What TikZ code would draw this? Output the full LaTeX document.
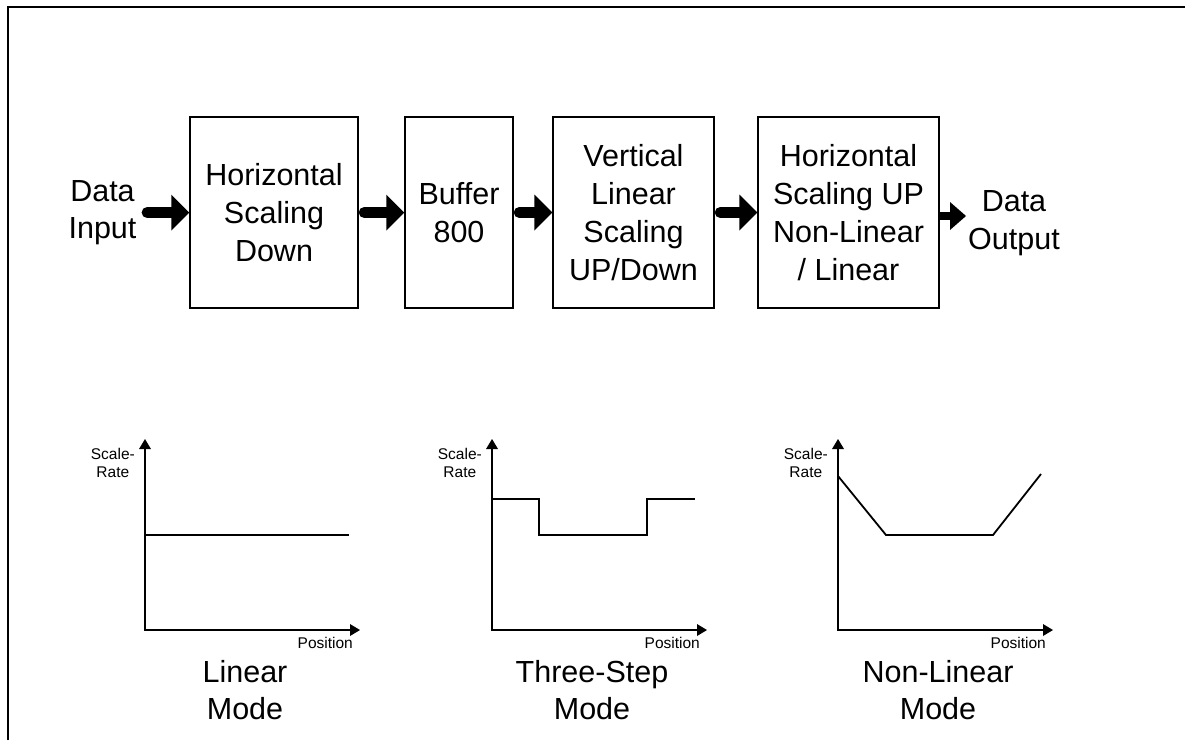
\documentclass[tikz,border=0pt]{standalone}
\usepackage{fontspec}
\setmainfont{Liberation Sans}
\usetikzlibrary{arrows.meta}

\begin{document}
\begin{tikzpicture}[x=1pt,y=-1pt,
    blk/.style={draw,line width=1.5pt,inner sep=0pt,align=center,minimum height=191pt,font=\fontsize{30.5}{38}\selectfont},
    lbl/.style={align=center,inner sep=0pt,font=\fontsize{30.5}{37.5}\selectfont},
    axlbl/.style={align=center,inner sep=0pt,font=\fontsize{15.5}{18}\selectfont},
    fat/.style={line width=11pt,line cap=round,shorten <=5.5pt,-{Triangle[length=18pt,width=36pt,line width=0pt]}},
    slim/.style={line width=8pt,-{Triangle[length=16pt,width=28pt,line width=0pt]}},
    axis/.style={line width=1.7pt,{Triangle[length=10pt,width=12pt,line width=0pt]}-{Triangle[length=10pt,width=12pt,line width=0pt]}},
    curve/.style={line width=1.8pt}]
  \useasboundingbox (0,0) rectangle (1185,740);
  % frame
  \draw[line width=2pt] (8,740) -- (8,6.7) -- (1185,6.7);
  % pipeline
  \node[lbl,inner xsep=5pt] (in) at (102.5,212.5) {Data\\Input};
  \node[blk,minimum width=168pt] (hsd) at (274,212.5) {Horizontal\\Scaling\\Down};
  \node[blk,minimum width=108pt] (buf) at (459,212.5) {Buffer\\800};
  \node[blk,minimum width=161pt] (vls) at (633.5,212.5) {Vertical\\Linear\\Scaling\\UP/Down};
  \node[blk,minimum width=181pt] (hsu) at (848.5,212.5) {Horizontal\\Scaling UP\\Non-Linear\\/ Linear};
  \node[lbl,inner xsep=2pt,anchor=west] (out) at (966,223) {Data\\Output};
  \draw[fat] (in) -- (hsd);
  \draw[fat] (hsd) -- (buf);
  \draw[fat] (buf) -- (vls);
  \draw[fat] (vls) -- (hsu);
  \draw[slim] ([yshift=-3.5pt]hsu.east) -- ([yshift=-3.5pt]hsu.east -| out.west);
  % mode graphs
  \foreach \ox/\txt [count=\i] in {145/{Linear\\Mode},492/{Three-Step\\Mode},838/{Non-Linear\\Mode}}{
    \coordinate (o\i) at (\ox,630);
    \draw[axis] (o\i) ++(0,-191) -- (o\i) -- ++(215,0);
    \node[axlbl,anchor=east] (sr\i) at (\ox-10,462.5) {Scale-\\Rate};
    \node[axlbl,anchor=north east] (pos\i) at (\ox+208,637) {Position};
    \node[lbl] (mode\i) at (\ox+100,690) {\txt};
  }
  \draw[curve] (o1) ++(0,-95) -- ++(204,0);
  \draw[curve] (o2) ++(0,-131) -- ++(47,0) -- ++(0,36) -- ++(108,0) -- ++(0,-36) -- ++(48,0);
  \draw[curve] (o3) ++(0,-154) -- ++(48,59) -- ++(107,0) -- ++(48,-61);
\end{tikzpicture}
\end{document}
